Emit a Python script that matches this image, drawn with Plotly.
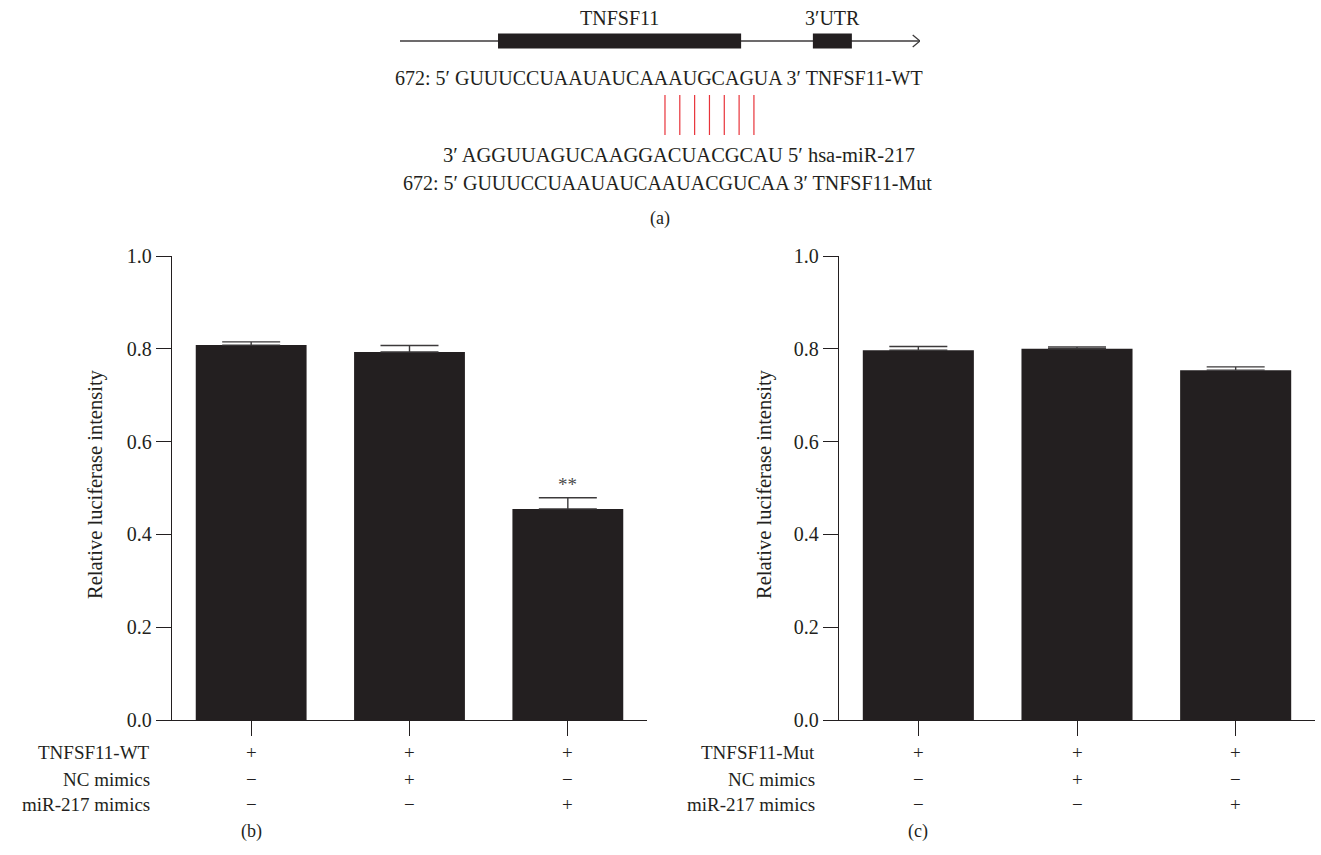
import plotly.graph_objects as go

# ---- luciferase reporter data ----
groups = [0, 1, 2]
wt_values = [0.808, 0.793, 0.455]
wt_errors = [0.007, 0.014, 0.024]
mut_values = [0.797, 0.800, 0.754]
mut_errors = [0.008, 0.004, 0.007]

wt_rows = ["TNFSF11-WT", "NC mimics", "miR-217 mimics"]
mut_rows = ["TNFSF11-Mut", "NC mimics", "miR-217 mimics"]
row_signs = [["+", "+", "+"], ["−", "+", "−"], ["−", "−", "+"]]
significance = ["", "", "**"]
y_ticks = [0.0, 0.2, 0.4, 0.6, 0.8, 1.0]

# ---- gene schematic (arbitrary units along the transcript) ----
segment_names = ["TNFSF11", "3′UTR"]
segment_starts = [18.85, 79.4]
segment_ends = [65.6, 86.9]
transcript_length = 100

# ---- seed pairing ----
wt_seq = "672: 5′ GUUUCCUAAUAUCAAAUGCAGUA 3′ TNFSF11-WT"
mir_seq = "3′ AGGUUAGUCAAGGACUACGCAU 5′ hsa-miR-217"
mut_seq = "672: 5′ GUUUCCUAAUAUCAAUACGUCAA 3′ TNFSF11-Mut"
target_nt = "GUUUCCUAAUAUCAAAUGCAGUA"
paired_positions = [14, 15, 16, 17, 18, 19, 20]

INK = "#231f20"
FONT = "Liberation Serif, Tinos, Times New Roman, DejaVu Serif, serif"
W, H = 1321, 855


def px_x(p):
    return p / W


def px_y(p):
    return 1 - p / H


fig = go.Figure()

# bar panels
for vals, errs, xa, ya in [(wt_values, wt_errors, "x", "y"),
                           (mut_values, mut_errors, "x2", "y2")]:
    fig.add_trace(go.Bar(
        x=groups, y=vals, width=0.7, marker=dict(color=INK, line=dict(width=0)),
        error_y=dict(type="data", array=errs, arrayminus=[0] * len(errs),
                     symmetric=False, color="#3c3a3b", thickness=1.4, width=29),
        xaxis=xa, yaxis=ya, showlegend=False, hoverinfo="skip"))

# gene schematic line, boxes and arrow head
fig.add_trace(go.Scatter(x=[0, transcript_length], y=[0, 0], mode="lines",
                         line=dict(color="#3c3a3b", width=1.3),
                         xaxis="x3", yaxis="y3", showlegend=False, hoverinfo="skip"))
fig.add_trace(go.Scatter(x=[transcript_length - 1.4, transcript_length, transcript_length - 1.4],
                         y=[0.55, 0, -0.55], mode="lines",
                         line=dict(color="#3c3a3b", width=1.3),
                         xaxis="x3", yaxis="y3", showlegend=False, hoverinfo="skip"))
for name, s, e in zip(segment_names, segment_starts, segment_ends):
    fig.add_shape(type="rect", xref="x3", yref="y3", x0=s, x1=e, y0=-0.68, y1=0.68,
                  fillcolor=INK, line=dict(width=0))
    fig.add_annotation(xref="x3", yref="y3", x=(s + e) / 2, y=0.68, yshift=3,
                       text=name, showarrow=False, yanchor="bottom",
                       font=dict(family=FONT, size=20, color=INK))

# pairing lines between target site and miRNA
for p in paired_positions:
    fig.add_shape(type="line", xref="x4", yref="y4", x0=p, x1=p, y0=0, y1=1,
                  line=dict(color="#e8333a", width=1.2))

seq_font = dict(family=FONT, size=20, color=INK)
fig.add_annotation(xref="paper", yref="paper", x=px_x(659), y=px_y(78), text=wt_seq,
                   showarrow=False, xanchor="center", yanchor="middle", font=seq_font)
fig.add_annotation(xref="paper", yref="paper", x=px_x(679), y=px_y(155), text=mir_seq,
                   showarrow=False, xanchor="center", yanchor="middle",
                   font=dict(family=FONT, size=20.5, color=INK))
fig.add_annotation(xref="paper", yref="paper", x=px_x(667), y=px_y(183), text=mut_seq,
                   showarrow=False, xanchor="center", yanchor="middle", font=seq_font)

# panel letters
for letter, xc, yc in [("(a)", 660, 218), ("(b)", 251, 831), ("(c)", 918, 831)]:
    fig.add_annotation(xref="paper", yref="paper", x=px_x(xc), y=px_y(yc), text=letter,
                       showarrow=False, xanchor="center", yanchor="middle",
                       font=dict(family=FONT, size=18, color=INK))

# condition tables under each panel
row_y = [752, 779, 804]
for rows, xa, label_right in [(wt_rows, "x", 152), (mut_rows, "x2", 817)]:
    for r, (label, yy) in enumerate(zip(rows, row_y)):
        fig.add_annotation(xref="paper", yref="paper", x=px_x(label_right), y=px_y(yy),
                           text=label, showarrow=False, xanchor="right", yanchor="middle",
                           font=dict(family=FONT, size=19, color=INK))
        for g in groups:
            fig.add_annotation(xref=xa, yref="paper", x=g, y=px_y(yy),
                               text=row_signs[r][g], showarrow=False,
                               xanchor="center", yanchor="middle",
                               font=dict(family=FONT, size=19, color=INK))

# y-axis titles
for xc in [96, 765]:
    fig.add_annotation(xref="paper", yref="paper", x=px_x(xc), y=px_y(484),
                       text="Relative luciferase intensity", textangle=-90,
                       showarrow=False, xanchor="center", yanchor="middle",
                       font=dict(family=FONT, size=20.5, color=INK))

# significance marks
for g, mark in zip(groups, significance):
    if mark:
        fig.add_annotation(xref="x", yref="y", x=g, y=wt_values[g] + wt_errors[g],
                           text=mark, showarrow=False, yanchor="bottom", yshift=1,
                           font=dict(family=FONT, size=19, color="#4a4a4a"))

axis_common = dict(showline=True, linecolor=INK, linewidth=1.3, showgrid=False,
                   zeroline=False, ticks="outside", ticklen=15, tickwidth=1.3,
                   tickcolor=INK, automargin=False)
xcommon = dict(axis_common, range=[-0.5, 2.5], tickvals=groups, showticklabels=False)
ycommon = dict(axis_common, range=[0, 1.0], tickvals=y_ticks, tickformat=".1f",
               tickfont=dict(family=FONT, size=20, color=INK))

hidden = dict(visible=False, showgrid=False, zeroline=False, fixedrange=True,
              automargin=False)

fig.update_layout(
    template="none",
    width=W, height=H,
    margin=dict(l=0, r=0, t=0, b=0, pad=0),
    paper_bgcolor="white", plot_bgcolor="white",
    font=dict(family=FONT, color=INK),
    showlegend=False,
    xaxis=dict(xcommon, domain=[px_x(172), px_x(647)], anchor="y"),
    yaxis=dict(ycommon, domain=[px_y(720), px_y(256)], anchor="x"),
    xaxis2=dict(xcommon, domain=[px_x(839), px_x(1315)], anchor="y2"),
    yaxis2=dict(ycommon, domain=[px_y(720), px_y(256)], anchor="x2"),
    xaxis3=dict(hidden, domain=[px_x(400), px_x(920)], range=[0, transcript_length], anchor="y3"),
    yaxis3=dict(hidden, domain=[px_y(52), px_y(30)], range=[-1, 1], anchor="x3"),
    xaxis4=dict(hidden, domain=[px_x(450), px_x(791)], range=[-0.5, len(target_nt) - 0.5], anchor="y4"),
    yaxis4=dict(hidden, domain=[px_y(135), px_y(95)], range=[0, 1], anchor="x4"),
)

fig.write_html("out.html")
